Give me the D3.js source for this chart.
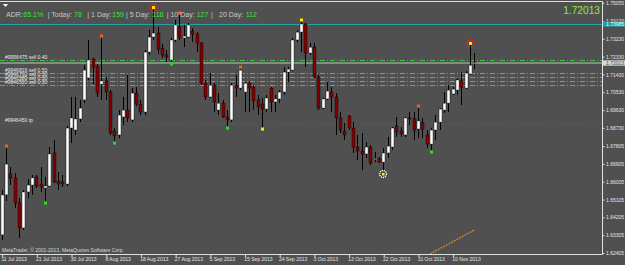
<!DOCTYPE html>
<html><head><meta charset="utf-8">
<script src="https://cdn.jsdelivr.net/npm/d3@7/dist/d3.min.js"></script>
<style>
html,body{margin:0;padding:0;background:#505050;overflow:hidden}
svg{display:block}
text{font-family:"Liberation Sans",Arial,sans-serif}
</style></head><body>
<script>
// ---------------- data ----------------
const open=[1.6332,1.6534,1.6640,1.6620,1.6493,1.6367,1.6549,1.6584,1.6625,1.6589,
1.6569,1.6579,1.6746,1.6604,1.6599,1.6589,1.6872,1.6862,1.6918,1.7014,
1.7125,1.7221,1.7185,1.7094,1.7110,1.7054,1.6857,1.6837,1.6928,1.6963,
1.6913,1.7049,1.6993,1.6953,1.7256,1.7332,1.7352,1.7276,1.7241,1.7216,
1.7317,1.7383,1.7327,1.7332,1.7362,1.7347,1.7302,1.7099,1.7029,1.7089,
1.6963,1.6998,1.6928,1.6913,1.7089,1.7074,1.7054,1.7099,1.7079,1.7014,
1.6993,1.6968,1.7074,1.7004,1.7019,1.7054,1.7155,1.7165,1.7317,1.7357,
1.7398,1.7251,1.7281,1.7130,1.6973,1.7019,1.7054,1.7029,1.6923,1.6857,
1.6933,1.6872,1.6776,1.6756,1.6741,1.6776,1.6716,1.6716,1.6700,1.6746,
1.6776,1.6882,1.6857,1.6837,1.6923,1.6918,1.6867,1.6902,1.6837,1.6791,
1.6862,1.6902,1.6963,1.6998,1.7044,1.7064,1.7110,1.7074,1.7145,1.7199];
const high=[1.6559,1.6771,1.6675,1.6645,1.6518,1.6559,1.6614,1.6635,1.6635,1.6675,
1.6625,1.6776,1.6811,1.6650,1.6635,1.6882,1.7029,1.7029,1.7014,1.7190,
1.7317,1.7226,1.7196,1.7327,1.7130,1.7064,1.6872,1.6963,1.7029,1.7140,
1.7074,1.7079,1.7014,1.7266,1.7367,1.7473,1.7383,1.7297,1.7266,1.7327,
1.7418,1.7443,1.7393,1.7403,1.7377,1.7357,1.7307,1.7115,1.7150,1.7099,
1.7049,1.7014,1.6963,1.7099,1.7140,1.7170,1.7105,1.7110,1.7089,1.7039,
1.7024,1.7039,1.7079,1.7039,1.7064,1.7180,1.7180,1.7327,1.7367,1.7408,
1.7403,1.7302,1.7302,1.7140,1.7024,1.7105,1.7079,1.7049,1.6953,1.6897,
1.6938,1.6902,1.6837,1.6847,1.6801,1.6786,1.6751,1.6726,1.6771,1.6827,
1.6877,1.6928,1.6877,1.6928,1.6953,1.6953,1.6973,1.6923,1.6862,1.6872,
1.6938,1.6973,1.7054,1.7089,1.7079,1.7125,1.7155,1.7160,1.7292,1.7251];
const low=[1.6306,1.6503,1.6584,1.6468,1.6317,1.6357,1.6518,1.6534,1.6569,1.6549,
1.6503,1.6574,1.6594,1.6559,1.6574,1.6579,1.6796,1.6837,1.6902,1.6998,
1.7115,1.7094,1.7029,1.7014,1.7014,1.6837,1.6806,1.6822,1.6887,1.6902,
1.6902,1.6983,1.6938,1.6938,1.7241,1.7317,1.7246,1.7226,1.7206,1.7206,
1.7307,1.7317,1.7281,1.7327,1.7307,1.7256,1.7089,1.7014,1.7024,1.6953,
1.6938,1.6923,1.6882,1.6902,1.7029,1.7064,1.6953,1.6953,1.6963,1.6938,
1.6877,1.6953,1.6953,1.6953,1.6998,1.7039,1.7105,1.7160,1.7307,1.7256,
1.7180,1.7241,1.7125,1.6963,1.6968,1.7014,1.6953,1.6837,1.6847,1.6811,
1.6862,1.6746,1.6710,1.6660,1.6721,1.6685,1.6700,1.6695,1.6660,1.6721,
1.6761,1.6827,1.6827,1.6827,1.6887,1.6811,1.6822,1.6822,1.6771,1.6761,
1.6811,1.6862,1.6948,1.6953,1.7039,1.7039,1.6988,1.7069,1.7140,1.7170];
const close=[1.6534,1.6690,1.6620,1.6493,1.6367,1.6549,1.6584,1.6620,1.6579,1.6574,
1.6579,1.6741,1.6599,1.6589,1.6589,1.6872,1.6923,1.6918,1.6973,1.7165,
1.7216,1.7180,1.7049,1.7110,1.7054,1.6847,1.6832,1.6938,1.6963,1.6923,
1.7049,1.6993,1.6953,1.7256,1.7332,1.7352,1.7271,1.7241,1.7231,1.7317,
1.7393,1.7327,1.7337,1.7393,1.7347,1.7302,1.7099,1.7029,1.7089,1.7004,
1.6998,1.6928,1.6913,1.7089,1.7074,1.7165,1.7099,1.7074,1.7009,1.6978,
1.6968,1.7024,1.7004,1.7019,1.7054,1.7155,1.7170,1.7317,1.7357,1.7398,
1.7251,1.7281,1.7130,1.6973,1.7019,1.7059,1.7029,1.6923,1.6862,1.6837,
1.6872,1.6776,1.6756,1.6741,1.6776,1.6695,1.6718,1.6700,1.6746,1.6781,
1.6872,1.6852,1.6842,1.6923,1.6921,1.6862,1.6908,1.6867,1.6791,1.6862,
1.6902,1.6968,1.6998,1.7064,1.7069,1.7115,1.7079,1.7150,1.7190,1.72013];

const dateLabels=["11 Jul 2013","21 Jul 2013","30 Jul 2013","8 Aug 2013","18 Aug 2013","27 Aug 2013","5 Sep 2013","15 Sep 2013","24 Sep 2013","3 Oct 2013","13 Oct 2013","22 Oct 2013","31 Oct 2013","10 Nov 2013"];
const dateBarIndex=[0,8,16,24,32,40,48,56,64,72,80,88,96,104];
const priceTicks=[1.75055,1.74120,1.73230,1.72330,1.71430,1.70530,1.69630,1.68730,1.67805,1.66905,1.66005,1.65105,1.64205,1.63305,1.62405];

const topMarkIdx=[1,23,41,55,96], topMarkYellow=[69], ringIdx=[35,108];
const botMarkIdx=[10,26,39,52,99], botMarkYellow=[60], gearIdx=[88];

const orderPrices=[1.72142,1.71485,1.71283,1.71081,1.70879];
const orderLabels=["#9956475 sell 0.40","#9946816 sell 0.50","#9946702 sell 0.30","#9946589 sell 0.30","#9946520 sell 0.30"];
const tpPrice=1.68959, tpLabel="#9946450 tp";
const tealPrice=1.73985, bidPrice=1.72013;
const trendIdx=[98.8,109], trendPrice=[1.62354,1.63567];

const adrParts=[["ADR:",0],["65.1%",1],["| Today:",0],["78",1],["| 1 Day:",0],["159",1],["| 5 Day:",0],["118",1],["| 10 Day:",0],["127",1],["|",0],["20 Day:",0],["112",1]];
const adrX=[6,23.3,47.7,74,87.3,112.3,126,152.3,166.7,196.7,211,219,245.7];

// ---------------- layout ----------------
const W=625,H=265, R=602, T=1.5, B=254.5;
const x=d3.scaleLinear().domain([0,109]).range([1.7,474.3]);
const y=d3.scaleLinear().domain([1.62405,1.75055]).range([253,2.7]);

const svg=d3.select('body').append('svg').attr('width',W).attr('height',H);
svg.append('rect').attr('width',W).attr('height',H).attr('fill','#505050');
svg.append('defs').append('clipPath').attr('id','clip').append('rect')
  .attr('x',0).attr('y',T).attr('width',R).attr('height',B-T);

const plot=svg.append('g').attr('clip-path','url(#clip)');

// horizontal levels
plot.append('line').attr('x1',0).attr('x2',R).attr('y1',Math.round(y(tealPrice))+0.5).attr('y2',Math.round(y(tealPrice))+0.5)
  .attr('stroke','#27a3a3').attr('stroke-width',1);
plot.append('line').attr('x1',0).attr('x2',R).attr('y1',y(bidPrice)).attr('y2',y(bidPrice))
  .attr('stroke','#8a8a8a').attr('stroke-width',2);
plot.selectAll('line.ord').data(orderPrices).join('line').attr('class','ord')
  .attr('x1',0).attr('x2',R).attr('y1',d=>Math.round(y(d))+0.5).attr('y2',d=>Math.round(y(d))+0.5)
  .attr('stroke','#3cc83c').attr('stroke-width',1).attr('stroke-dasharray','5,2,1,2');
plot.append('line').attr('x1',0).attr('x2',R).attr('y1',Math.round(y(tpPrice))+0.5).attr('y2',Math.round(y(tpPrice))+0.5)
  .attr('stroke','#e01e1e').attr('stroke-width',1).attr('stroke-dasharray','5,2,1,2');

// order labels
plot.selectAll('text.ol').data(orderLabels).join('text').attr('class','ol')
  .attr('x',5).attr('y',(d,i)=>y(orderPrices[i])-1.2).text(d=>d)
  .attr('font-size',5).attr('fill','#e8e8e8');
plot.append('text').attr('x',5).attr('y',y(tpPrice)-1.2).text(tpLabel).attr('font-size',5).attr('fill','#e8e8e8');

// candles
const idx=d3.range(open.length);
const cx=i=>Math.round(x(i));
plot.selectAll('line.wick').data(idx).join('line').attr('class','wick')
  .attr('x1',i=>cx(i)+0.5).attr('x2',i=>cx(i)+0.5)
  .attr('y1',i=>y(high[i])).attr('y2',i=>y(low[i]))
  .attr('stroke','#000').attr('stroke-width',1);
plot.selectAll('rect.body').data(idx).join('rect').attr('class','body')
  .attr('x',i=>cx(i)-1).attr('width',3)
  .attr('y',i=>Math.min(y(open[i]),y(close[i])))
  .attr('height',i=>Math.max(1,Math.abs(y(open[i])-y(close[i]))))
  .attr('fill',i=>close[i]>=open[i]?'#ffffff':'#850000')
  .attr('stroke','#000').attr('stroke-width',0.4);

// markers
const sq=(i,py,color)=>plot.append('rect').attr('x',cx(i)-1).attr('y',py-1.5).attr('width',3).attr('height',3).attr('fill',color);
topMarkIdx.forEach(i=>sq(i,y(high[i])-2,'#ff5a14'));
topMarkYellow.forEach(i=>sq(i,y(high[i])-2,'#ffe600'));
botMarkIdx.forEach(i=>sq(i,y(low[i])+2,'#22e022'));
botMarkYellow.forEach(i=>sq(i,y(low[i])+2,'#ffe600'));
ringIdx.forEach(i=>{
  const py=y(high[i])-1.5;
  plot.append('circle').attr('cx',cx(i)+0.5).attr('cy',py).attr('r',3.6).attr('fill','none')
    .attr('stroke','#ff2020').attr('stroke-width',1.2).attr('stroke-dasharray','1.2,0.8');
  plot.append('rect').attr('x',cx(i)-1).attr('y',py-1.5).attr('width',3).attr('height',3).attr('fill','#ffe600');
});
gearIdx.forEach(i=>{
  const py=y(low[i])+4;
  plot.append('circle').attr('cx',cx(i)).attr('cy',py).attr('r',3.5).attr('fill','none')
    .attr('stroke','#ffffff').attr('stroke-width',1.3).attr('stroke-dasharray','1.2,0.9');
  plot.append('rect').attr('x',cx(i)-1).attr('y',py-1).attr('width',2.5).attr('height',2.5).attr('fill','#f0f000');
});

// trend line
plot.append('line').attr('x1',x(trendIdx[0])).attr('y1',y(trendPrice[0])).attr('x2',x(trendIdx[1])).attr('y2',y(trendPrice[1]))
  .attr('stroke','#d98a20').attr('stroke-width',1.3).attr('stroke-dasharray','2,1');

// ADR info text
const adr=svg.append('g');
adrParts.forEach((p,i)=>adr.append('text').attr('x',adrX[i]).attr('y',16.7).text(p[0])
  .attr('font-size',7).attr('fill',p[1]?'#2ee62e':'#c8c8c8'));
// indicator triangle
svg.append('path').attr('d','M3,4 L8,4 L5.5,7 Z').attr('fill','#ffffff');

// big price
svg.append('text').attr('x',600).attr('y',14).attr('text-anchor','end').text(d3.format('.5f')(bidPrice))
  .attr('font-size',10.2).attr('fill','#8ee83a');

// copyright
svg.append('text').attr('x',2).attr('y',251.5).text('MetaTrader, © 2001-2013, MetaQuotes Software Corp.')
  .attr('font-size',5).attr('fill','#d8d8d8');

// frame
svg.append('path').attr('d',`M0,${T} H${R+0.5} V${B} H0`).attr('fill','none').attr('stroke','#e0e0e0').attr('stroke-width',1);

// right price axis
const ya=svg.append('g').attr('transform',`translate(${R+0.5},0)`)
  .call(d3.axisRight(y).tickValues(priceTicks).tickSize(2).tickPadding(1.5).tickFormat(d3.format('.5f')));
ya.select('.domain').remove();
ya.selectAll('line').attr('stroke','#e0e0e0');
ya.selectAll('text').attr('font-size',5).attr('fill','#e6e6e6').attr('font-family','"Liberation Sans",Arial,sans-serif');

// price tags
const tag=(p,fill,tc)=>{
  const py=y(p);
  svg.append('rect').attr('x',R+1).attr('y',py-2.6).attr('width',W-R-1).attr('height',5.4).attr('fill',fill);
  svg.append('text').attr('x',R+4).attr('y',py+1.8).text(d3.format('.5f')(p)).attr('font-size',5).attr('fill',tc);
};
tag(tealPrice,'#20a0a0','#ffffff');
tag(bidPrice,'#d4d4d4','#505050');

// bottom date axis
const xa=svg.append('g').attr('transform',`translate(0,${B})`)
  .call(d3.axisBottom(x).tickValues(dateBarIndex).tickSize(2.5).tickFormat((d,i)=>dateLabels[i]));
xa.select('.domain').remove();
xa.selectAll('line').attr('stroke','#e0e0e0').attr('transform','translate(0.5,0)');
xa.selectAll('text').attr('font-size',5).attr('fill','#e6e6e6').attr('text-anchor','start')
  .attr('dx',-0.8).attr('dy',0).attr('y',6.3).attr('font-family','"Liberation Sans",Arial,sans-serif');
</script>
</body></html>
